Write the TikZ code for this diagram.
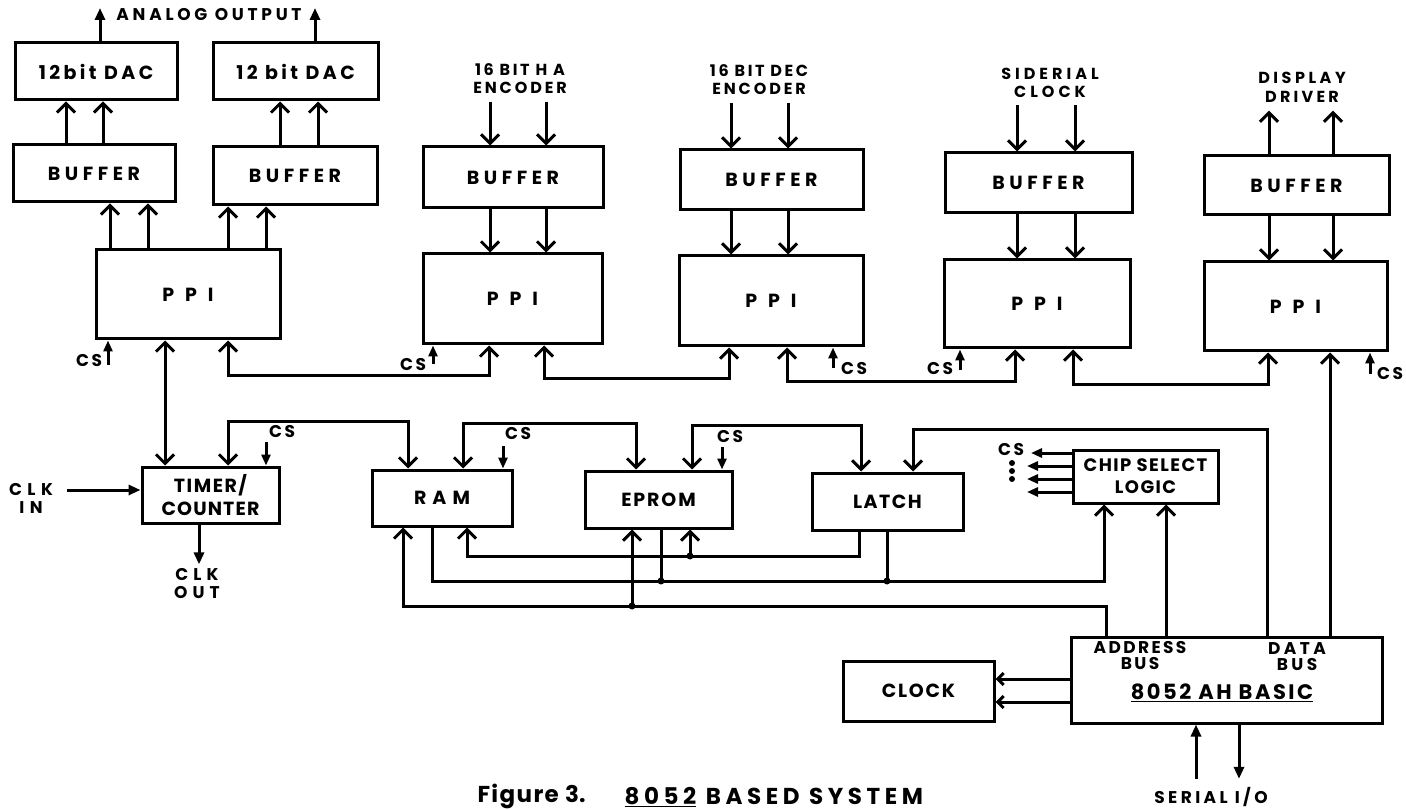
\documentclass[tikz,border=0pt]{standalone}
\usepackage{fontspec}
\setmainfont{Poppins}
\newfontfamily\pop{Poppins}
\usetikzlibrary{arrows.meta}
\newcommand\LS[1]{\addfontfeatures{LetterSpace=#1}}
\begin{document}
\begin{tikzpicture}[x=1pt,y=-1pt,
  line width=3pt,
  bx/.style={draw, line width=3pt, inner sep=0pt, align=center,
    font=\pop\bfseries\fontsize{19}{23}\selectfont},
  lb/.style={inner sep=0pt, align=center,
    font=\pop\bfseries\fontsize{17}{18}\selectfont},
  vb/.style={-{Straight Barb[length=9pt,width=18pt]}},
  vbb/.style={{Straight Barb[length=9pt,width=18pt]}-{Straight Barb[length=9pt,width=18pt]}},
  vbs/.style={-{Straight Barb[length=6pt,width=12pt]}},
  tri/.style={-{Triangle[length=12pt,width=10pt]}},
  tris/.style={-{Triangle[length=11pt,width=9pt]}},
  jdot/.style={circle, fill, inner sep=0pt, minimum size=7pt},
  sdot/.style={circle, fill, inner sep=0pt, minimum size=6pt}
]
\fill[white] (0,0) rectangle (1406,810);
\useasboundingbox (0,0) rectangle (1406,810);

% ---------- boxes ----------
\node[bx, minimum width=162pt, minimum height=57pt] (DAC1) at (96,71.5) {\LS{18}12bit DAC};
\node[bx, minimum width=165pt, minimum height=57pt] (DAC2) at (295.5,71.5) {\LS{18}12 bit DAC};
\node[bx, minimum width=162pt, minimum height=57pt] (BUF1) at (94,173.5) {\LS{24}BUFFER};
\node[bx, minimum width=164pt, minimum height=58pt] (BUF2) at (295,176) {\LS{24}BUFFER};
\node[bx, minimum width=184pt, minimum height=89pt] (PPI1) at (188,294.5) {\LS{36}P P I};
\node[bx, minimum width=180pt, minimum height=61pt] (BUF3) at (513,177.5) {\LS{24}BUFFER};
\node[bx, minimum width=179pt, minimum height=90pt] (PPI2) at (512.5,299) {\LS{36}P P I};
\node[bx, minimum width=183pt, minimum height=60pt] (BUF4) at (771.5,180) {\LS{24}BUFFER};
\node[bx, minimum width=184pt, minimum height=90pt] (PPI3) at (771,301) {\LS{36}P P I};
\node[bx, minimum width=187pt, minimum height=60pt] (BUF5) at (1038.5,183) {\LS{24}BUFFER};
\node[bx, minimum width=186pt, minimum height=88pt] (PPI4) at (1037,304) {\LS{36}P P I};
\node[bx, minimum width=185pt, minimum height=59pt] (BUF6) at (1296.5,185.5) {\LS{24}BUFFER};
\node[bx, minimum width=183pt, minimum height=89pt] (PPI5) at (1295.5,306.5) {\LS{36}P P I};
\node[bx, minimum width=137pt, minimum height=56pt] (TIMER) at (210.5,495) {\LS{8}TIMER/\\\LS{6}COUNTER};
\node[bx, minimum width=140pt, minimum height=56pt] (RAM) at (442,498) {\LS{32}RAM};
\node[bx, minimum width=147pt, minimum height=57pt] (EPROM) at (658.5,499.5) {\LS{10}EPROM};
\node[bx, minimum width=151pt, minimum height=57pt] (LATCH) at (887.5,501.5) {\LS{8}LATCH};
\node[bx, minimum width=145pt, minimum height=53pt, font=\pop\bfseries\fontsize{18}{22}\selectfont] (CSL) at (1145.5,476.5) {\LS{8}CHIP SELECT\\\LS{8}LOGIC};
\node[bx, minimum width=151pt, minimum height=60pt] (CLOCK) at (918.5,691) {\LS{9}CLOCK};
\node[bx, minimum width=311pt, minimum height=86pt] (B8052) at (1227,680) {};

% ---------- labels ----------
\node[lb] (AO) at (209,15) {\LS{22}ANALOG OUTPUT};
\node[lb, font=\pop\bfseries\fontsize{16}{18}\selectfont] (ENC3) at (520,79) {\LS{16}16 BIT H A\\\LS{18}ENCODER};
\node[lb, font=\pop\bfseries\fontsize{16}{18}\selectfont] (ENC4) at (759,80) {\LS{16}16 BIT DEC\\\LS{18}ENCODER};
\node[lb, font=\pop\bfseries\fontsize{16}{18}\selectfont] (ENC5) at (1050,83) {\LS{25}SIDERIAL\\\LS{25}CLOCK};
\node[lb, font=\pop\bfseries\fontsize{16}{19}\selectfont] (DISP) at (1302,87) {\LS{22}DISPLAY\\\LS{20}DRIVER};
\node[lb] (CLKIN) at (31,498) {\LS{32}CLK\\\LS{32}IN};
\node[lb] (CLKOUT) at (197,584) {\LS{30}CLK\\\LS{30}OUT};
\node[lb, font=\pop\bfseries\fontsize{17}{16}\selectfont] (ADDR) at (1140,656) {\LS{14}ADDRESS\\\LS{14}BUS};
\node[lb, font=\pop\bfseries\fontsize{17}{16}\selectfont] (DATA) at (1297,657) {\LS{20}DATA\\\LS{20}BUS};
\node[lb, font=\pop\bfseries\fontsize{21}{24}\selectfont] (TITLE) at (1222,693) {\LS{12}\underline{8052 AH BASIC}};
\node[lb] (SER) at (1211,797) {\LS{20}SERIAL I/O};
\node[inner sep=0pt, anchor=west, font=\pop\bfseries\fontsize{23}{26}\selectfont] (CAP1) at (476,797) {\LS{6}\underline{Figure 3}.};
\node[inner sep=0pt, anchor=west, font=\pop\bfseries\fontsize{23}{26}\selectfont] (CAP2) at (623,797) {\LS{20}\underline{8052} BASED SYSTEM};

% CS labels
\node[lb] (CS1) at (89,361) {\LS{15}CS};
\node[lb] (CS2) at (413,365) {\LS{15}CS};
\node[lb] (CS3) at (854,369) {\LS{15}CS};
\node[lb] (CS4) at (940,369) {\LS{15}CS};
\node[lb] (CS5) at (1390,374) {\LS{15}CS};
\node[lb] (CST) at (282,432) {\LS{15}CS};
\node[lb] (CSR) at (518,434) {\LS{15}CS};
\node[lb] (CSE) at (730,437) {\LS{15}CS};
\node[lb] (CSO) at (1011,450) {\LS{15}CS};
\node[sdot] (D1) at (1012,463) {};
\node[sdot] (D2) at (1012,471) {};
\node[sdot] (D3) at (1012,479) {};

% ---------- x positions / levels ----------
\coordinate (ao1) at (100,0);  \coordinate (ao2) at (315,0); \coordinate (aotop) at (0,8);
\coordinate (d1a) at (66,0);   \coordinate (d1b) at (103,0);
\coordinate (d2a) at (280,0);  \coordinate (d2b) at (318,0);
\coordinate (p1a) at (110,0);  \coordinate (p1b) at (148,0);
\coordinate (p1c) at (228,0);  \coordinate (p1d) at (266,0);
\coordinate (e3a) at (490,0);  \coordinate (e3b) at (546,0);
\coordinate (e4a) at (731,0);  \coordinate (e4b) at (788,0);
\coordinate (e5a) at (1017,0); \coordinate (e5b) at (1075,0);
\coordinate (e6a) at (1269,0); \coordinate (e6b) at (1333,0);

% ---------- top row ----------
\draw[tri] (ao1 |- DAC1.north) -- (ao1 |- aotop);
\draw[tri] (ao2 |- DAC2.north) -- (ao2 |- aotop);
\draw[vb] (d1a |- BUF1.north) -- (d1a |- DAC1.south);
\draw[vb] (d1b |- BUF1.north) -- (d1b |- DAC1.south);
\draw[vb] (d2a |- BUF2.north) -- (d2a |- DAC2.south);
\draw[vb] (d2b |- BUF2.north) -- (d2b |- DAC2.south);
\draw[vb] (p1a |- PPI1.north) -- (p1a |- BUF1.south);
\draw[vb] (p1b |- PPI1.north) -- (p1b |- BUF1.south);
\draw[vb] (p1c |- PPI1.north) -- (p1c |- BUF2.south);
\draw[vb] (p1d |- PPI1.north) -- (p1d |- BUF2.south);

\draw[vb, shorten <=6pt] (e3a |- ENC3.south) -- (e3a |- BUF3.north);
\draw[vb, shorten <=6pt] (e3b |- ENC3.south) -- (e3b |- BUF3.north);
\draw[vb] (e3a |- BUF3.south) -- (e3a |- PPI2.north);
\draw[vb] (e3b |- BUF3.south) -- (e3b |- PPI2.north);
\draw[vb, shorten <=6pt] (e4a |- ENC4.south) -- (e4a |- BUF4.north);
\draw[vb, shorten <=6pt] (e4b |- ENC4.south) -- (e4b |- BUF4.north);
\draw[vb] (e4a |- BUF4.south) -- (e4a |- PPI3.north);
\draw[vb] (e4b |- BUF4.south) -- (e4b |- PPI3.north);
\draw[vb, shorten <=6pt] (e5a |- ENC5.south) -- (e5a |- BUF5.north);
\draw[vb, shorten <=6pt] (e5b |- ENC5.south) -- (e5b |- BUF5.north);
\draw[vb] (e5a |- BUF5.south) -- (e5a |- PPI4.north);
\draw[vb] (e5b |- BUF5.south) -- (e5b |- PPI4.north);
\draw[vb, shorten >=7pt] (e6a |- BUF6.north) -- (e6a |- DISP.south);
\draw[vb, shorten >=7pt] (e6b |- BUF6.north) -- (e6b |- DISP.south);
\draw[vb] (e6a |- BUF6.south) -- (e6a |- PPI5.north);
\draw[vb] (e6b |- BUF6.south) -- (e6b |- PPI5.north);

% ---------- PPI chain ----------
\coordinate (c1a) at (228,375);  \coordinate (c1b) at (489,0);
\coordinate (c2a) at (544,378);  \coordinate (c2b) at (729,0);
\coordinate (c3a) at (787,381);  \coordinate (c3b) at (1015,0);
\coordinate (c4a) at (1073,384); \coordinate (c4b) at (1268,0);
\draw[vbb] (c1a |- PPI1.south) -- (c1a) -| (c1b |- PPI2.south);
\draw[vbb] (c2a |- PPI2.south) -- (c2a) -| (c2b |- PPI3.south);
\draw[vbb] (c3a |- PPI3.south) -- (c3a) -| (c3b |- PPI4.south);
\draw[vbb] (c4a |- PPI4.south) -- (c4a) -| (c4b |- PPI5.south);

% CS arrows under PPIs
\coordinate (k1) at (108,365); \coordinate (k2) at (433,364);
\coordinate (k3) at (833,368); \coordinate (k4) at (960,370);
\coordinate (k5) at (1370,374);
\draw[tris] (k1) -- (k1 |- PPI1.south);
\draw[tris] (k2) -- (k2 |- PPI2.south);
\draw[tris] (k3) -- (k3 |- PPI3.south);
\draw[tris] (k4) -- (k4 |- PPI4.south);
\draw[tris] (k5) -- (k5 |- PPI5.south);

% ---------- timer ----------
\coordinate (pt) at (165,0);
\draw[vbb] (pt |- PPI1.south) -- (pt |- TIMER.north);
\coordinate (clkin) at (67,490);
\draw[tri] (clkin) -- (clkin -| TIMER.west);
\coordinate (co) at (199,0);
\draw[tri, shorten >=3pt] (co |- TIMER.south) -- (co |- CLKOUT.north);
\coordinate (tcs) at (266,442);
\draw[tris] (tcs) -- (tcs |- TIMER.north);

% ---------- memory top links ----------
\coordinate (t1) at (228,421);  \coordinate (r1) at (408,0);
\draw[vbb] (t1 |- TIMER.north) -- (t1) -| (r1 |- RAM.north);
\coordinate (r2) at (463,423);  \coordinate (m1e) at (636,0);
\draw[vbb] (r2 |- RAM.north) -- (r2) -| (m1e |- EPROM.north);
\coordinate (rcs) at (503,446);
\draw[tris] (rcs) -- (rcs |- RAM.north);
\coordinate (m2e) at (692,425); \coordinate (l1) at (861,0);
\draw[vbb] (m2e |- EPROM.north) -- (m2e) -| (l1 |- LATCH.north);
\coordinate (ecs) at (722,447);
\draw[tris] (ecs) -- (ecs |- EPROM.north);

% ---------- 8052 buses ----------
\coordinate (x1) at (1106,606); \coordinate (x2) at (1166,0);
\coordinate (x3) at (1267,429); \coordinate (x4) at (1330,0);
\coordinate (l2) at (913,0);
\draw[vb] (x3 |- B8052.north) -- (x3) -| (l2 |- LATCH.north);
\draw[vb] (x4 |- B8052.north) -- (x4 |- PPI5.south);
\draw[vb] (x2 |- B8052.north) -- (x2 |- CSL.south);

% address bus to RAM / EPROM
\coordinate (ra1) at (403,0); \coordinate (ep3) at (632,0);
\draw[vb] (x1 |- B8052.north) -- (x1) -| (ra1 |- RAM.south);
\draw[vb] (ep3 |- x1) -- (ep3 |- EPROM.south);
\node[jdot] (J1) at (ep3 |- x1) {};

% line to chip select logic
\coordinate (yb) at (1104,581); \coordinate (ra2) at (432,0);
\coordinate (ep4) at (661,0); \coordinate (l3) at (887,0);
\draw[vb] (ra2 |- RAM.south) -- (ra2 |- yb) -- (yb) -- (yb |- CSL.south);
\draw (ep4 |- EPROM.south) -- (ep4 |- yb);
\draw (l3 |- LATCH.south) -- (l3 |- yb);
\node[jdot] (J2) at (ep4 |- yb) {};
\node[jdot] (J3) at (l3 |- yb) {};

% latch output
\coordinate (ya) at (859,556); \coordinate (ra3) at (467,0); \coordinate (ep5) at (690,0);
\draw[vb] (ya |- LATCH.south) -- (ya) -| (ra3 |- RAM.south);
\draw[vb] (ep5 |- ya) -- (ep5 |- EPROM.south);
\node[jdot] (J4) at (ep5 |- ya) {};

% chip select outputs
\coordinate (o1) at (1031,453); \coordinate (o2) at (1027,466);
\coordinate (o3) at (1027,479); \coordinate (o4) at (1027,492);
\draw[tris] (o1 -| CSL.west) -- (o1);
\draw[tris] (o2 -| CSL.west) -- (o2);
\draw[tris] (o3 -| CSL.west) -- (o3);
\draw[tris] (o4 -| CSL.west) -- (o4);

% clock
\coordinate (q1) at (0,679); \coordinate (q2) at (0,702);
\draw[vbs] (q1 -| B8052.west) -- (q1 -| CLOCK.east);
\draw[vbs] (q2 -| B8052.west) -- (q2 -| CLOCK.east);

% serial I/O
\coordinate (s1) at (1196,0); \coordinate (s2) at (1239,0);
\draw[tri, shorten <=7pt] (s1 |- SER.north) -- (s1 |- B8052.south);
\draw[tri, shorten >=7pt] (s2 |- B8052.south) -- (s2 |- SER.north);
\end{tikzpicture}
\end{document}
